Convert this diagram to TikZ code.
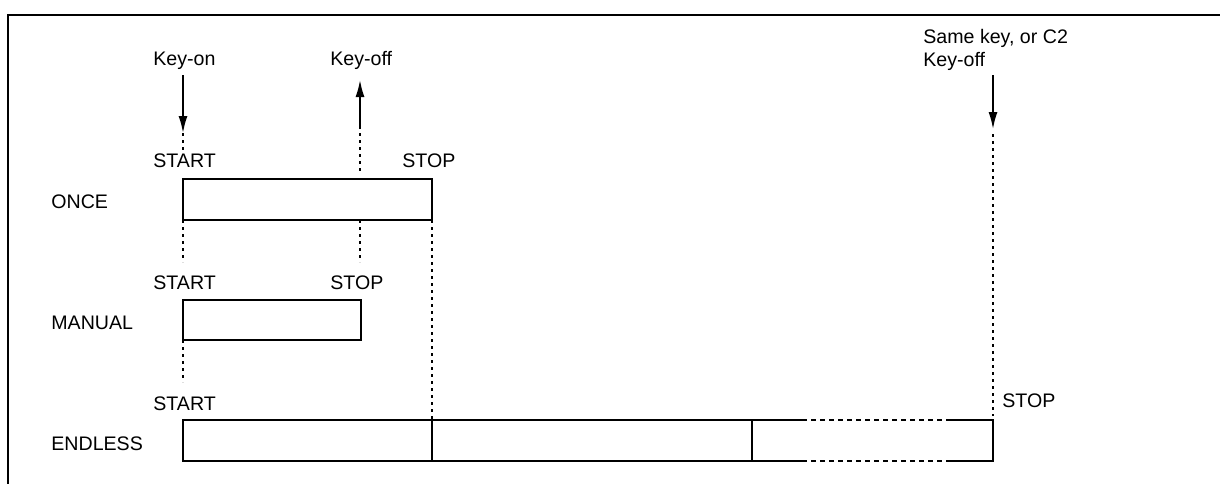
\documentclass[tikz,border=0pt]{standalone}
\usepackage{fontspec}
\setmainfont{Liberation Sans}
\usetikzlibrary{arrows.meta,positioning}

\begin{document}
\begin{tikzpicture}[x=0.5pt,y=-0.5pt,>={Latex[length=8.5pt,width=4.5pt]},
 lab/.style={anchor=base west,inner sep=0,align=left,font=\fontsize{9.8}{11.5}\selectfont},
 bar/.style={draw,line width=0.7pt,anchor=north west,inner sep=0,outer sep=0,minimum height=20.5pt},
 key/.style={->,line width=0.85pt},
 guide/.style={line width=0.6pt,dash pattern=on 1.6pt off 1.9pt}]
\useasboundingbox (0,0) rectangle (1220,484);
\draw[line width=1pt] (1220,15) -- (8,15) -- (8,484);
% labels
\node[lab] (keyon) at (153,65) {Key-on};
\node[lab] (keyoff) at (330,65) {Key-off};
\node[lab] (samekey) at (923,66) {Same key, or C2\\Key-off};
\node[lab] (start1) at (153,167) {START};
\node[lab] (stop1) at (402,167) {STOP};
\node[lab] (oncelab) at (51,208) {ONCE};
\node[lab] (start2) at (153,289) {START};
\node[lab] (stop2) at (330,289) {STOP};
\node[lab] (manuallab) at (51,329) {MANUAL};
\node[lab] (start3) at (153,410) {START};
\node[lab] (stop3) at (1002,407) {STOP};
\node[lab] (endlesslab) at (51,450) {ENDLESS};
% bars
\node[bar,minimum width=124.5pt] (once) at (183,179) {};
\node[bar,minimum width=89pt,minimum height=20pt] (manual) at (183,300) {};
\node[bar,minimum width=124.5pt] (loop1) at (183,420) {};
\node[bar,minimum width=160pt] (loop2) at (432,420) {};
\draw[line width=0.7pt] (loop2.north east) -- (802,420) (947,420) -- (993,420) -- (993,461) -- (947,461) (802,461) -- (loop2.south east);
\draw[line width=0.7pt,dash pattern=on 2.5pt off 2pt] (802,420) -- (947,420) (802,461) -- (947,461);
% key events
\coordinate (on) at (183,133);
\coordinate (off) at (360,80);
\coordinate (off2) at (993,129);
\draw[key] (183,75) -- (on);
\draw[key] (360,129) -- (off);
\draw[key] (993,75) -- (off2);
% guide lines
\draw[guide] (on) -- (183,150);
\draw[guide] (360,133) -- (360,172);
\draw[guide] (once.south west) -- ++(0,42);
\draw[guide] (360,220) -- (360,262);
\draw[guide] (once.south east) -- (loop2.north west);
\draw[guide] (manual.south west) -- ++(0,42);
\draw[guide] (off2) ++(0,5) -- (993,416);
\end{tikzpicture}
\end{document}
